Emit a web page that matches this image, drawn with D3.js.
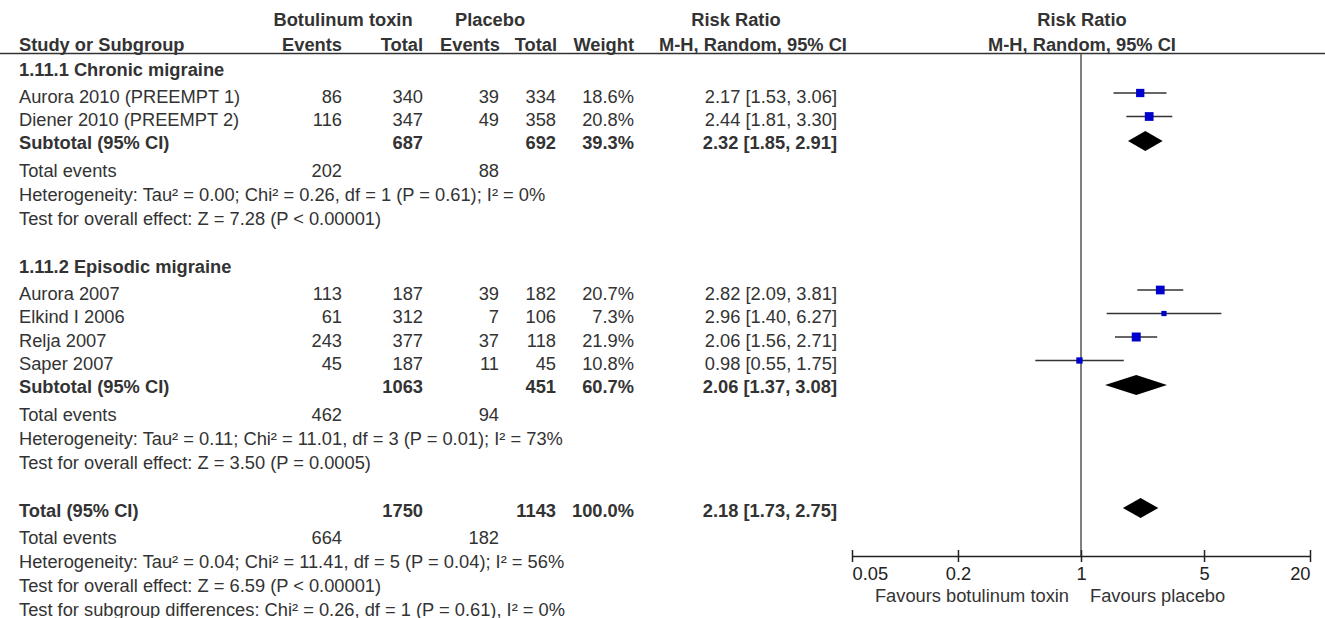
<!DOCTYPE html>
<html>
<head>
<meta charset="utf-8">
<script src="https://cdn.jsdelivr.net/npm/d3@7"></script>
<style>
body { margin: 0; background: #fff; }
text { font-family: "Liberation Sans", Arial, sans-serif; font-size: 18.3px; fill: #333; }
.b { font-weight: bold; }
</style>
</head>
<body>
<script>
var w = 1325;
var h = 618;

// studies
var studies = ["Aurora 2010 (PREEMPT 1)", "Diener 2010 (PREEMPT 2)", "Aurora 2007", "Elkind I 2006", "Relja 2007", "Saper 2007"];
var studyGroup = [0, 0, 1, 1, 1, 1];
var btEvents = [86, 116, 113, 61, 243, 45];
var btTotal = [340, 347, 187, 312, 377, 187];
var plEvents = [39, 49, 39, 7, 37, 11];
var plTotal = [334, 358, 182, 106, 118, 45];
var weights = [18.6, 20.8, 20.7, 7.3, 21.9, 10.8];
var rr = [2.17, 2.44, 2.82, 2.96, 2.06, 0.98];
var rrLo = [1.53, 1.81, 2.09, 1.40, 1.56, 0.55];
var rrHi = [3.06, 3.30, 3.81, 6.27, 2.71, 1.75];

// subgroups
var groups = ["1.11.1 Chronic migraine", "1.11.2 Episodic migraine"];
var subBtEvents = [202, 462];
var subBtTotal = [687, 1063];
var subPlEvents = [88, 94];
var subPlTotal = [692, 451];
var subWeight = [39.3, 60.7];
var subRR = [2.32, 2.06];
var subLo = [1.85, 1.37];
var subHi = [2.91, 3.08];
var subHet = ["Heterogeneity: Tau² = 0.00; Chi² = 0.26, df = 1 (P = 0.61); I² = 0%",
              "Heterogeneity: Tau² = 0.11; Chi² = 11.01, df = 3 (P = 0.01); I² = 73%"];
var subZ = ["Test for overall effect: Z = 7.28 (P < 0.00001)",
            "Test for overall effect: Z = 3.50 (P = 0.0005)"];

// overall
var totBtEvents = 664, totBtTotal = 1750, totPlEvents = 182, totPlTotal = 1143;
var totWeight = 100.0, totRR = 2.18, totLo = 1.73, totHi = 2.75;
var totHet = "Heterogeneity: Tau² = 0.04; Chi² = 11.41, df = 5 (P = 0.04); I² = 56%";
var totZ = "Test for overall effect: Z = 6.59 (P < 0.00001)";
var subDiff = "Test for subgroup differences: Chi² = 0.26, df = 1 (P = 0.61), I² = 0%";

var tickVals = [0.05, 0.2, 1, 5, 20];
var tickLabels = ["0.05", "0.2", "1", "5", "20"];

var svg = d3.select("body").append("svg")
            .attr("width", w)
            .attr("height", h);
svg.append("rect").attr("width", w).attr("height", h).attr("fill", "#fff");

var x = d3.scaleLog().domain([0.05, 20]).range([852, 1310]);
var box = d3.scaleSqrt().domain([0, 22]).range([0, 9]);
var f2 = d3.format(".2f");
var f1 = d3.format(".1f");
function ci(m, l, u) { return f2(m) + " [" + f2(l) + ", " + f2(u) + "]"; }

// column anchors
var col = { label: 19, btE: 342, btT: 423, plE: 499, plT: 556, wt: 634, rr: 837 };

function txt(xx, yy, s, anchor, bold) {
  svg.append("text")
     .attr("x", xx)
     .attr("y", yy)
     .attr("dy", "0.36em")
     .attr("text-anchor", anchor || "start")
     .attr("class", bold ? "b" : null)
     .text(s);
}

// header
txt(343, 19, "Botulinum toxin", "middle", true);
txt(490, 19, "Placebo", "middle", true);
txt(736, 19, "Risk Ratio", "middle", true);
txt(1082, 19, "Risk Ratio", "middle", true);
txt(col.label, 44, "Study or Subgroup", "start", true);
txt(col.btE, 44, "Events", "end", true);
txt(col.btT, 44, "Total", "end", true);
txt(col.plE + 1, 44, "Events", "end", true);
txt(col.plT + 1, 44, "Total", "end", true);
txt(col.wt, 44, "Weight", "end", true);
txt(753, 44, "M-H, Random, 95% CI", "middle", true);
txt(1082, 44, "M-H, Random, 95% CI", "middle", true);

svg.append("line")
   .attr("x1", 0).attr("x2", w)
   .attr("y1", 53.5).attr("y2", 53.5)
   .attr("stroke", "#333").attr("stroke-width", 1.5);

// reference line at RR = 1
var axisY = 556;
svg.append("line")
   .attr("x1", x(1)).attr("x2", x(1))
   .attr("y1", 54).attr("y2", axisY)
   .attr("stroke", "#555").attr("stroke-width", 1.5);

function diamond(yy, m, l, u) {
  var hh = 10;
  svg.append("path")
     .attr("d", "M" + x(l) + "," + yy + "L" + x(m) + "," + (yy - hh) +
                "L" + x(u) + "," + yy + "L" + x(m) + "," + (yy + hh) + "Z")
     .attr("fill", "#000");
}

var y = 69;
groups.forEach(function(g, gi) {
  txt(col.label, y, g, "start", true);
  y += 27;
  var idx = studies.map(function(s, i) { return i; }).filter(function(i) { return studyGroup[i] === gi; });
  idx.forEach(function(i, k) {
    if (k > 0) y += 23.5;
    txt(col.label, y, studies[i]);
    txt(col.btE, y, btEvents[i], "end");
    txt(col.btT, y, btTotal[i], "end");
    txt(col.plE, y, plEvents[i], "end");
    txt(col.plT, y, plTotal[i], "end");
    txt(col.wt, y, f1(weights[i]) + "%", "end");
    txt(col.rr, y, ci(rr[i], rrLo[i], rrHi[i]), "end");
    var py = y - 3;
    svg.append("line")
       .attr("x1", x(rrLo[i])).attr("x2", x(rrHi[i]))
       .attr("y1", py).attr("y2", py)
       .attr("stroke", "#333").attr("stroke-width", 1.3);
    var s = box(weights[i]);
    svg.append("rect")
       .attr("x", x(rr[i]) - s / 2).attr("y", py - s / 2)
       .attr("width", s).attr("height", s)
       .attr("fill", "#0000cc");
  });
  y += 22.5;
  txt(col.label, y, "Subtotal (95% CI)", "start", true);
  txt(col.btT, y, subBtTotal[gi], "end", true);
  txt(col.plT, y, subPlTotal[gi], "end", true);
  txt(col.wt, y, f1(subWeight[gi]) + "%", "end", true);
  txt(col.rr, y, ci(subRR[gi], subLo[gi], subHi[gi]), "end", true);
  diamond(y - 1, subRR[gi], subLo[gi], subHi[gi]);
  y += 28;
  txt(col.label, y, "Total events");
  txt(col.btE, y, subBtEvents[gi], "end");
  txt(col.plE, y, subPlEvents[gi], "end");
  y += 24;
  txt(col.label, y, subHet[gi]);
  y += 24;
  txt(col.label, y, subZ[gi]);
  y += 48;
});

// overall
txt(col.label, y, "Total (95% CI)", "start", true);
txt(col.btT, y, totBtTotal, "end", true);
txt(col.plT, y, totPlTotal, "end", true);
txt(col.wt, y, f1(totWeight) + "%", "end", true);
txt(col.rr, y, ci(totRR, totLo, totHi), "end", true);
diamond(y - 2, totRR, totLo, totHi);
y += 27;
txt(col.label, y, "Total events");
txt(col.btE, y, totBtEvents, "end");
txt(col.plE, y, totPlEvents, "end");
y += 24;
txt(col.label, y, totHet);
y += 24;
txt(col.label, y, totZ);
y += 24;
txt(col.label, y, subDiff);

// axis
var axis = d3.axisBottom(x)
             .tickValues(tickVals)
             .tickFormat(function(d, i) { return tickLabels[i]; })
             .tickSizeOuter(0);
var ag = svg.append("g").attr("transform", "translate(0," + axisY + ")").call(axis);
ag.select(".domain").attr("stroke", "#222").attr("stroke-width", 1.5);
ag.selectAll(".tick line").attr("y1", -6).attr("y2", 6).attr("stroke", "#222").attr("stroke-width", 1.5);
ag.selectAll(".tick text")
  .attr("y", 17).attr("dy", "0.36em")
  .style("font-family", "\"Liberation Sans\", Arial, sans-serif")
  .style("font-size", "18.3px")
  .style("fill", "#222")
  .attr("text-anchor", function(d, i) { return i === 0 ? "start" : (i === tickVals.length - 1 ? "end" : "middle"); });

txt(x(1) - 12, 595, "Favours botulinum toxin", "end");
txt(x(1) + 9, 595, "Favours placebo", "start");
</script>
</body>
</html>
